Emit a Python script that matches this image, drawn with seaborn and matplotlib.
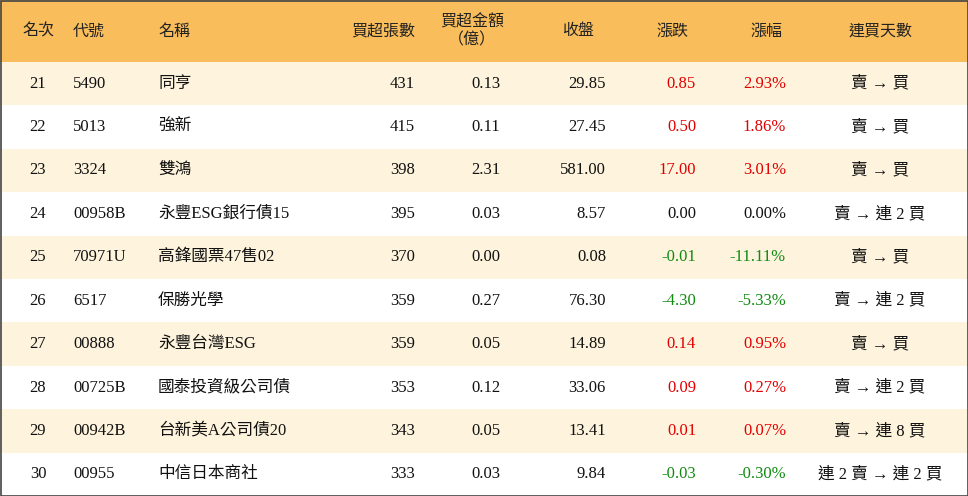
import matplotlib
matplotlib.use("Agg")
import matplotlib.pyplot as plt
import seaborn as sns
import numpy as np
from matplotlib.colors import ListedColormap

ranks = [21, 22, 23, 24, 25, 26, 27, 28, 29, 30]
codes = ["5490", "5013", "3324", "00958B", "70971U", "6517", "00888", "00725B", "00942B", "00955"]
names = ["同亨", "強新", "雙鴻", "永豐ESG銀行債15", "高鋒國票47售02", "保勝光學", "永豐台灣ESG",
         "國泰投資級公司債", "台新美A公司債20", "中信日本商社"]
buy_lots = [431, 415, 398, 395, 370, 359, 359, 353, 343, 333]
buy_amt = [0.13, 0.11, 2.31, 0.03, 0.00, 0.27, 0.05, 0.12, 0.05, 0.03]
close = [29.85, 27.45, 581.00, 8.57, 0.08, 76.30, 14.89, 33.06, 13.41, 9.84]
change = [0.85, 0.50, 17.00, 0.00, -0.01, -4.30, 0.14, 0.09, 0.01, -0.03]
pct = [2.93, 1.86, 3.01, 0.00, -11.11, -5.33, 0.95, 0.27, 0.07, -0.30]
days = ["賣 → 買", "賣 → 買", "賣 → 買", "賣 → 連 2 買", "賣 → 買", "賣 → 連 2 買",
        "賣 → 買", "賣 → 連 2 買", "賣 → 連 8 買", "連 2 賣 → 連 2 買"]
headers = ["名次", "代號", "名稱", "買超張數", "買超金額\n（億）", "收盤", "漲跌", "漲幅", "連買天數"]

W, H = 968, 496
HEAD = 62
n = len(ranks)
rowh = (H - HEAD) / n

fig = plt.figure(figsize=(9.68, 4.96), dpi=100)
ax = fig.add_axes([0, 0, 1, 1])
font = ["Liberation Serif", "Noto Sans CJK TC"]
hfont = ["Noto Sans CJK TC"]

# background bands via seaborn heatmap (0 header, 1 cream, 2 white)
band = np.array([[0]] + [[1 if i % 2 == 0 else 2] for i in range(n)])
cmap = ListedColormap(["#F9BD5B", "#FEF3DC", "#FFFFFF"])
sns.heatmap(band, ax=ax, cmap=cmap, vmin=-0.5, vmax=2.5, cbar=False,
            xticklabels=False, yticklabels=False)
ax.set_xlim(0, 1)
ax.set_ylim(band.shape[0], 0)
# remap: heatmap row 0 is header; we need unequal heights -> redraw with pcolormesh edges
ax.clear()
edges = np.concatenate([[0, HEAD], HEAD + rowh * np.arange(1, n + 1)])
ax.pcolormesh([0, W], edges, band, cmap=cmap, vmin=-0.5, vmax=2.5)
ax.set_xlim(0, W)
ax.set_ylim(H, 0)
ax.axis("off")
ax.add_patch(plt.Rectangle((0.5, 0.5), W - 1, H - 1, fill=False, ec="#444444", lw=1.2))

# header
hx = [(38, "center"), (73, "left"), (158, "left"), (415, "right"), (472, "center"),
      (578, "center"), (672, "center"), (766, "center"), (880, "center")]
for (x, ha), t in zip(hx, headers):
    ax.text(x, HEAD / 2, t, ha=ha, va="center", fontsize=11.5, family=hfont,
            color="#222222", linespacing=1.0)

def col(v):
    if v > 0:
        return "#E00000"
    if v < 0:
        return "#108A10"
    return "#111111"

for i in range(n):
    y = HEAD + rowh * (i + 0.5)
    kw = dict(va="center", fontsize=12, family=font)
    ax.text(38, y, str(ranks[i]), ha="center", color="#111111", **kw)
    ax.text(73, y, codes[i], ha="left", color="#111111", **kw)
    ax.text(158, y, names[i], ha="left", color="#111111", **kw)
    ax.text(415, y, f"{buy_lots[i]}", ha="right", color="#111111", **kw)
    ax.text(500, y, f"{buy_amt[i]:.2f}", ha="right", color="#111111", **kw)
    ax.text(606, y, f"{close[i]:.2f}", ha="right", color="#111111", **kw)
    ax.text(696, y, f"{change[i]:.2f}", ha="right", color=col(change[i]), **kw)
    ax.text(786, y, f"{pct[i]:.2f}%", ha="right", color=col(pct[i]), **kw)
    ax.text(880, y, days[i], ha="center", color="#111111", **kw)

fig.savefig("out.png", dpi=100)
